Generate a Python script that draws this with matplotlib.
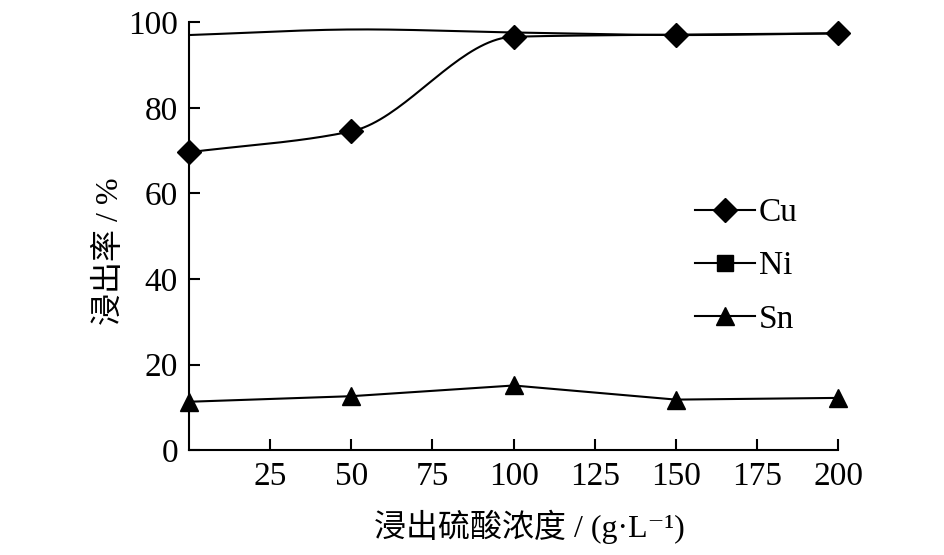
import numpy as np
import matplotlib
matplotlib.use("Agg")
import matplotlib.pyplot as plt
from matplotlib.lines import Line2D

x = [0, 50, 100, 150, 200]
cu = [69.6, 74.5, 96.6, 97.1, 97.4]
ni = [97.0, 98.3, 97.6, 97.0, 97.4]
sn = [11.3, 12.6, 15.1, 11.8, 12.2]
xticks = [25, 50, 75, 100, 125, 150, 175, 200]
yticks = [0, 20, 40, 60, 80, 100]

def smooth(xs, ys, n=40):
    xs = np.asarray(xs, float); ys = np.asarray(ys, float)
    P = np.column_stack([xs, ys])
    P = np.vstack([P[0] - (P[1] - P[0]), P, P[-1] + (P[-1] - P[-2])])
    out = []
    for i in range(1, len(P) - 2):
        p0, p1, p2, p3 = P[i-1], P[i], P[i+1], P[i+2]
        t = np.linspace(0, 1, n)[:, None]
        b0 = p1
        b1 = p1 + (p2 - p0) / 6
        b2 = p2 - (p3 - p1) / 6
        b3 = p2
        seg = ((1-t)**3)*b0 + 3*((1-t)**2)*t*b1 + 3*(1-t)*t**2*b2 + t**3*b3
        out.append(seg)
    s = np.vstack(out)
    return s[:, 0], s[:, 1]

def monotone(xs, ys, n=40):
    xs = np.asarray(xs, float); ys = np.asarray(ys, float)
    h = np.diff(xs); d = np.diff(ys) / h
    m = np.zeros(len(xs))
    m[0] = d[0]; m[-1] = d[-1]
    for i in range(1, len(xs) - 1):
        if d[i-1] * d[i] <= 0:
            m[i] = 0
        else:
            w1 = 2*h[i] + h[i-1]; w2 = h[i] + 2*h[i-1]
            m[i] = (w1 + w2) / (w1/d[i-1] + w2/d[i])
    X = []; Y = []
    for i in range(len(xs) - 1):
        t = np.linspace(0, 1, n)
        h00 = 2*t**3 - 3*t**2 + 1; h10 = t**3 - 2*t**2 + t
        h01 = -2*t**3 + 3*t**2; h11 = t**3 - t**2
        X.append(xs[i] + t*h[i])
        Y.append(h00*ys[i] + h10*h[i]*m[i] + h01*ys[i+1] + h11*h[i]*m[i+1])
    return np.concatenate(X), np.concatenate(Y)

plt.rcParams['font.family'] = ['Liberation Serif', 'Noto Sans CJK SC', 'DejaVu Serif']
fig = plt.figure(figsize=(9.45, 5.55), dpi=100)
ax = fig.add_axes([0.2, 0.189, 0.687, 0.771])

sx, sy = smooth(x, ni)
ax.plot(sx, sy, color='black', lw=1.5, zorder=2)
sx, sy = monotone(x, cu)
ax.plot(sx, sy, color='black', lw=1.5, zorder=2)
ax.plot(x, cu, linestyle='none', marker='D', markersize=12, color='black', zorder=3, clip_on=False)
ax.plot(x, sn, color='black', lw=1.5, marker='^', markersize=13, zorder=3, clip_on=False)

ax.set_xlim(0, 200)
ax.set_ylim(0, 100)
ax.set_xticks(xticks)
ax.set_yticks(yticks)
ax.tick_params(direction='in', length=8, width=1.5, labelsize=24, pad=8)
for s in ['top', 'right']:
    ax.spines[s].set_visible(False)
for s in ['left', 'bottom']:
    ax.spines[s].set_linewidth(1.5)

ax.set_xlabel('浸出硫酸浓度 / (g·L⁻¹)', fontsize=23)
ax.xaxis.set_label_coords(0.524, -0.14)
ax.set_ylabel('浸出率 / %', fontsize=23)
ax.yaxis.set_label_coords(-0.098, 0.465)

handles = [
    Line2D([], [], color='black', lw=1.5, marker='D', markersize=12),
    Line2D([], [], color='black', lw=1.5, marker='s', markersize=11),
    Line2D([], [], color='black', lw=1.5, marker='^', markersize=13),
]
ax.legend(handles, ['Cu', 'Ni', 'Sn'], loc='center left', bbox_to_anchor=(0.78, 0.43),
          frameon=False, fontsize=24, handlelength=1.8, handletextpad=0.1,
          labelspacing=0.68, borderpad=0, borderaxespad=0)

fig.savefig('out.png', dpi=100)
